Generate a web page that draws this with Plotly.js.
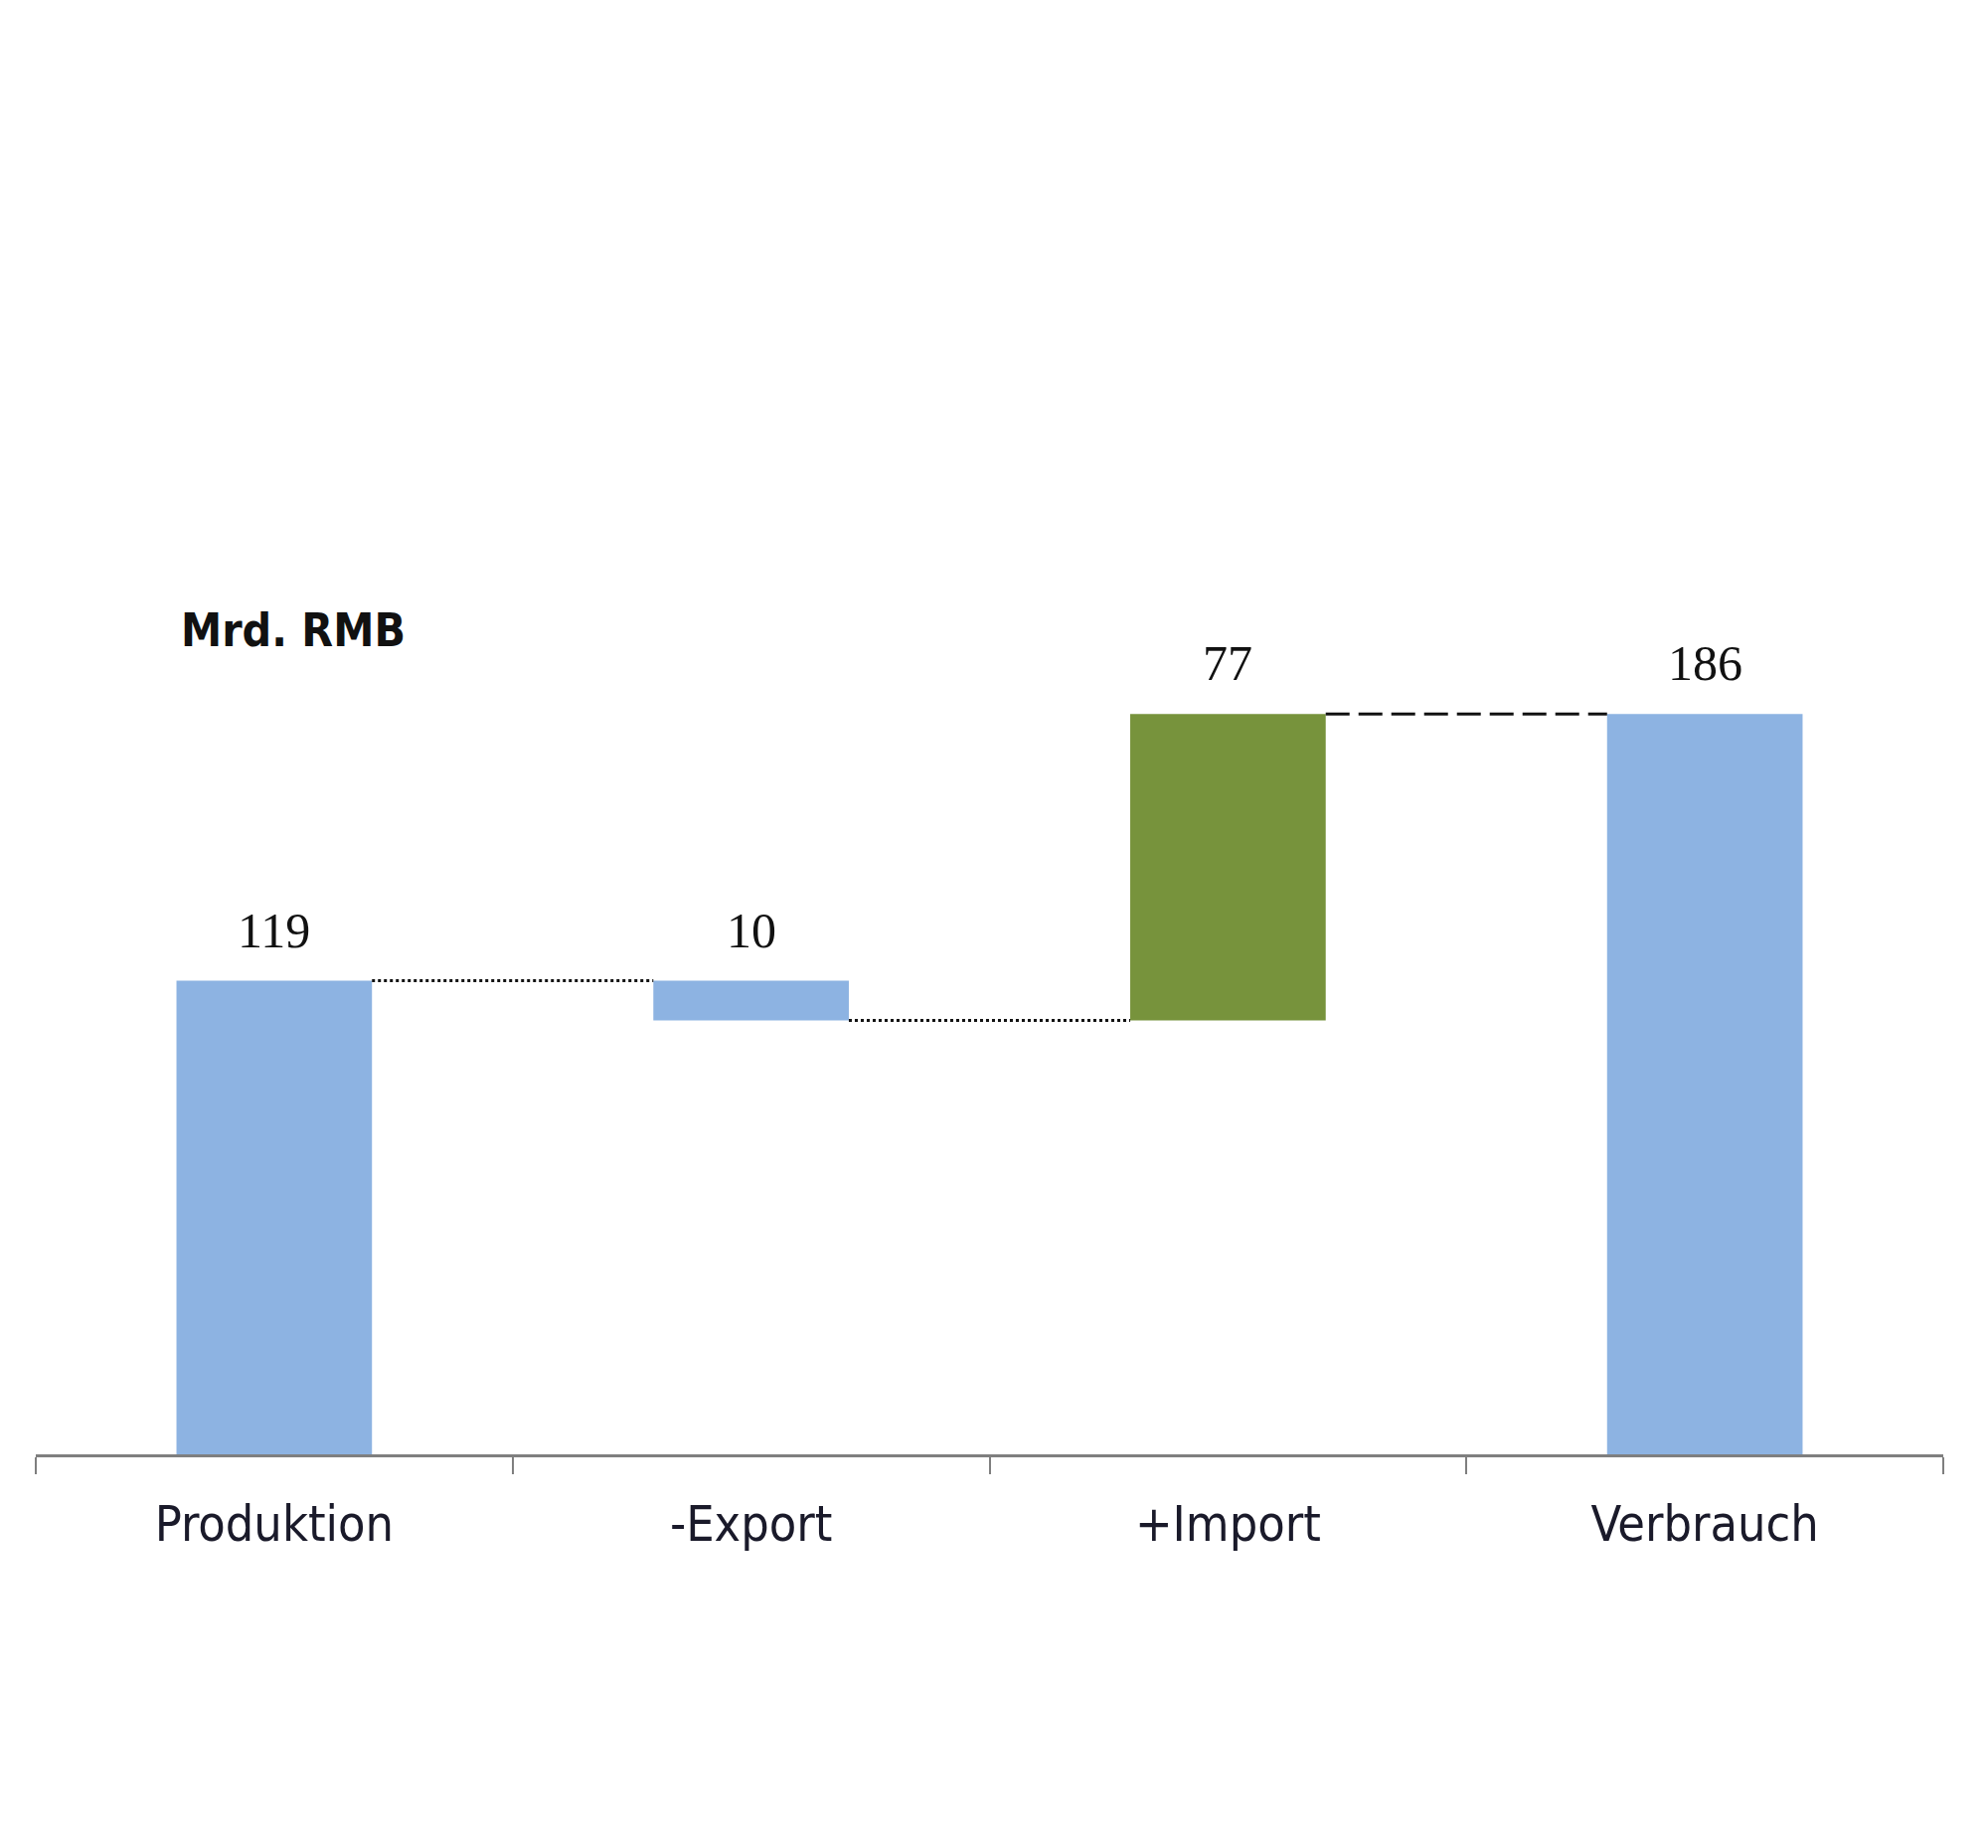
<!DOCTYPE html>
<html>
<head>
<meta charset="utf-8">
<script src="https://cdn.plot.ly/plotly-3.0.1.min.js"></script>
<style>html,body{margin:0;padding:0;background:#fff;}#chart{width:2000px;height:1859px;}</style>
</head>
<body>
<div id="chart"></div>
<script>
// Data
const categories = ["Produktion", "-Export", "+Import", "Verbrauch"];
const measures = ["absolute", "relative", "relative", "total"];
const deltas = [119, -10, 77, 0];
const labels = ["119", "10", "77", "186"];
const connectorDash = ["dot", "dot", "24px,9px"];
const unitLabel = "Mrd. RMB";

const xpos = categories.map((c, i) => i);
const boundaries = [-0.5].concat(xpos.map(v => v + 0.5));
const barWidth = 0.41;

// cumulative levels after each bar (used for connectors and label positions)
const ends = [];
const tops = [];
let run = 0;
measures.forEach((m, i) => {
  let start, end;
  if (m === "absolute") { start = 0; end = deltas[i]; }
  else if (m === "total") { start = 0; end = run; }
  else { start = run; end = run + deltas[i]; }
  run = end;
  ends.push(end);
  tops.push(Math.max(start, end));
});

const blue = "#8DB3E2";
const green = "#77933C";

const traces = [{
  type: "waterfall",
  x: xpos,
  y: deltas,
  measure: measures,
  width: barWidth,
  textinfo: "none",
  hoverinfo: "skip",
  increasing: {marker: {color: green}},
  decreasing: {marker: {color: blue}},
  totals: {marker: {color: blue}},
  connector: {visible: false},
  showlegend: false
}];

for (let i = 0; i < categories.length - 1; i++) {
  traces.push({
    type: "scatter",
    mode: "lines",
    x: [xpos[i] + barWidth / 2, xpos[i + 1] - barWidth / 2],
    y: [ends[i], ends[i]],
    line: {color: "#111", width: 3, dash: connectorDash[i]},
    hoverinfo: "skip",
    showlegend: false
  });
}

const annotations = categories.map((c, i) => ({
  x: xpos[i], y: tops[i], xref: "x", yref: "y",
  text: labels[i], showarrow: false,
  xanchor: "center", yanchor: "bottom", yshift: 21,
  font: {family: "Liberation Serif, Times New Roman, serif", size: 50, color: "#111"}
}));
annotations.push({
  x: 0.075, xref: "paper", y: 207, yref: "y",
  text: "<b>" + unitLabel + "</b>", showarrow: false,
  xanchor: "left", yanchor: "middle",
  font: {family: "DejaVu Sans Condensed, DejaVu Sans, sans-serif", size: 46, color: "#111"}
});

const layout = {
  width: 2000, height: 1859,
  paper_bgcolor: "#fff", plot_bgcolor: "#fff",
  margin: {l: 36, r: 45, t: 462, b: 396},
  xaxis: {
    range: [-0.5, categories.length - 0.5],
    tickmode: "array",
    tickvals: xpos, ticktext: categories,
    ticks: "outside", ticklen: 24, tickcolor: "rgba(0,0,0,0)",
    tickfont: {family: "DejaVu Sans Condensed, DejaVu Sans, sans-serif", size: 50, color: "#1a1a2a"},
    minor: {tickmode: "array", tickvals: boundaries, ticks: "outside", ticklen: 17, tickwidth: 2, tickcolor: "#7f7f7f", showgrid: false},
    showline: true, linecolor: "#7f7f7f", linewidth: 3,
    showgrid: false, zeroline: false, fixedrange: true
  },
  yaxis: {range: [0, 250], visible: false, fixedrange: true},
  annotations: annotations,
  showlegend: false
};

Plotly.newPlot("chart", traces, layout, {displayModeBar: false, staticPlot: true});
</script>
</body>
</html>
